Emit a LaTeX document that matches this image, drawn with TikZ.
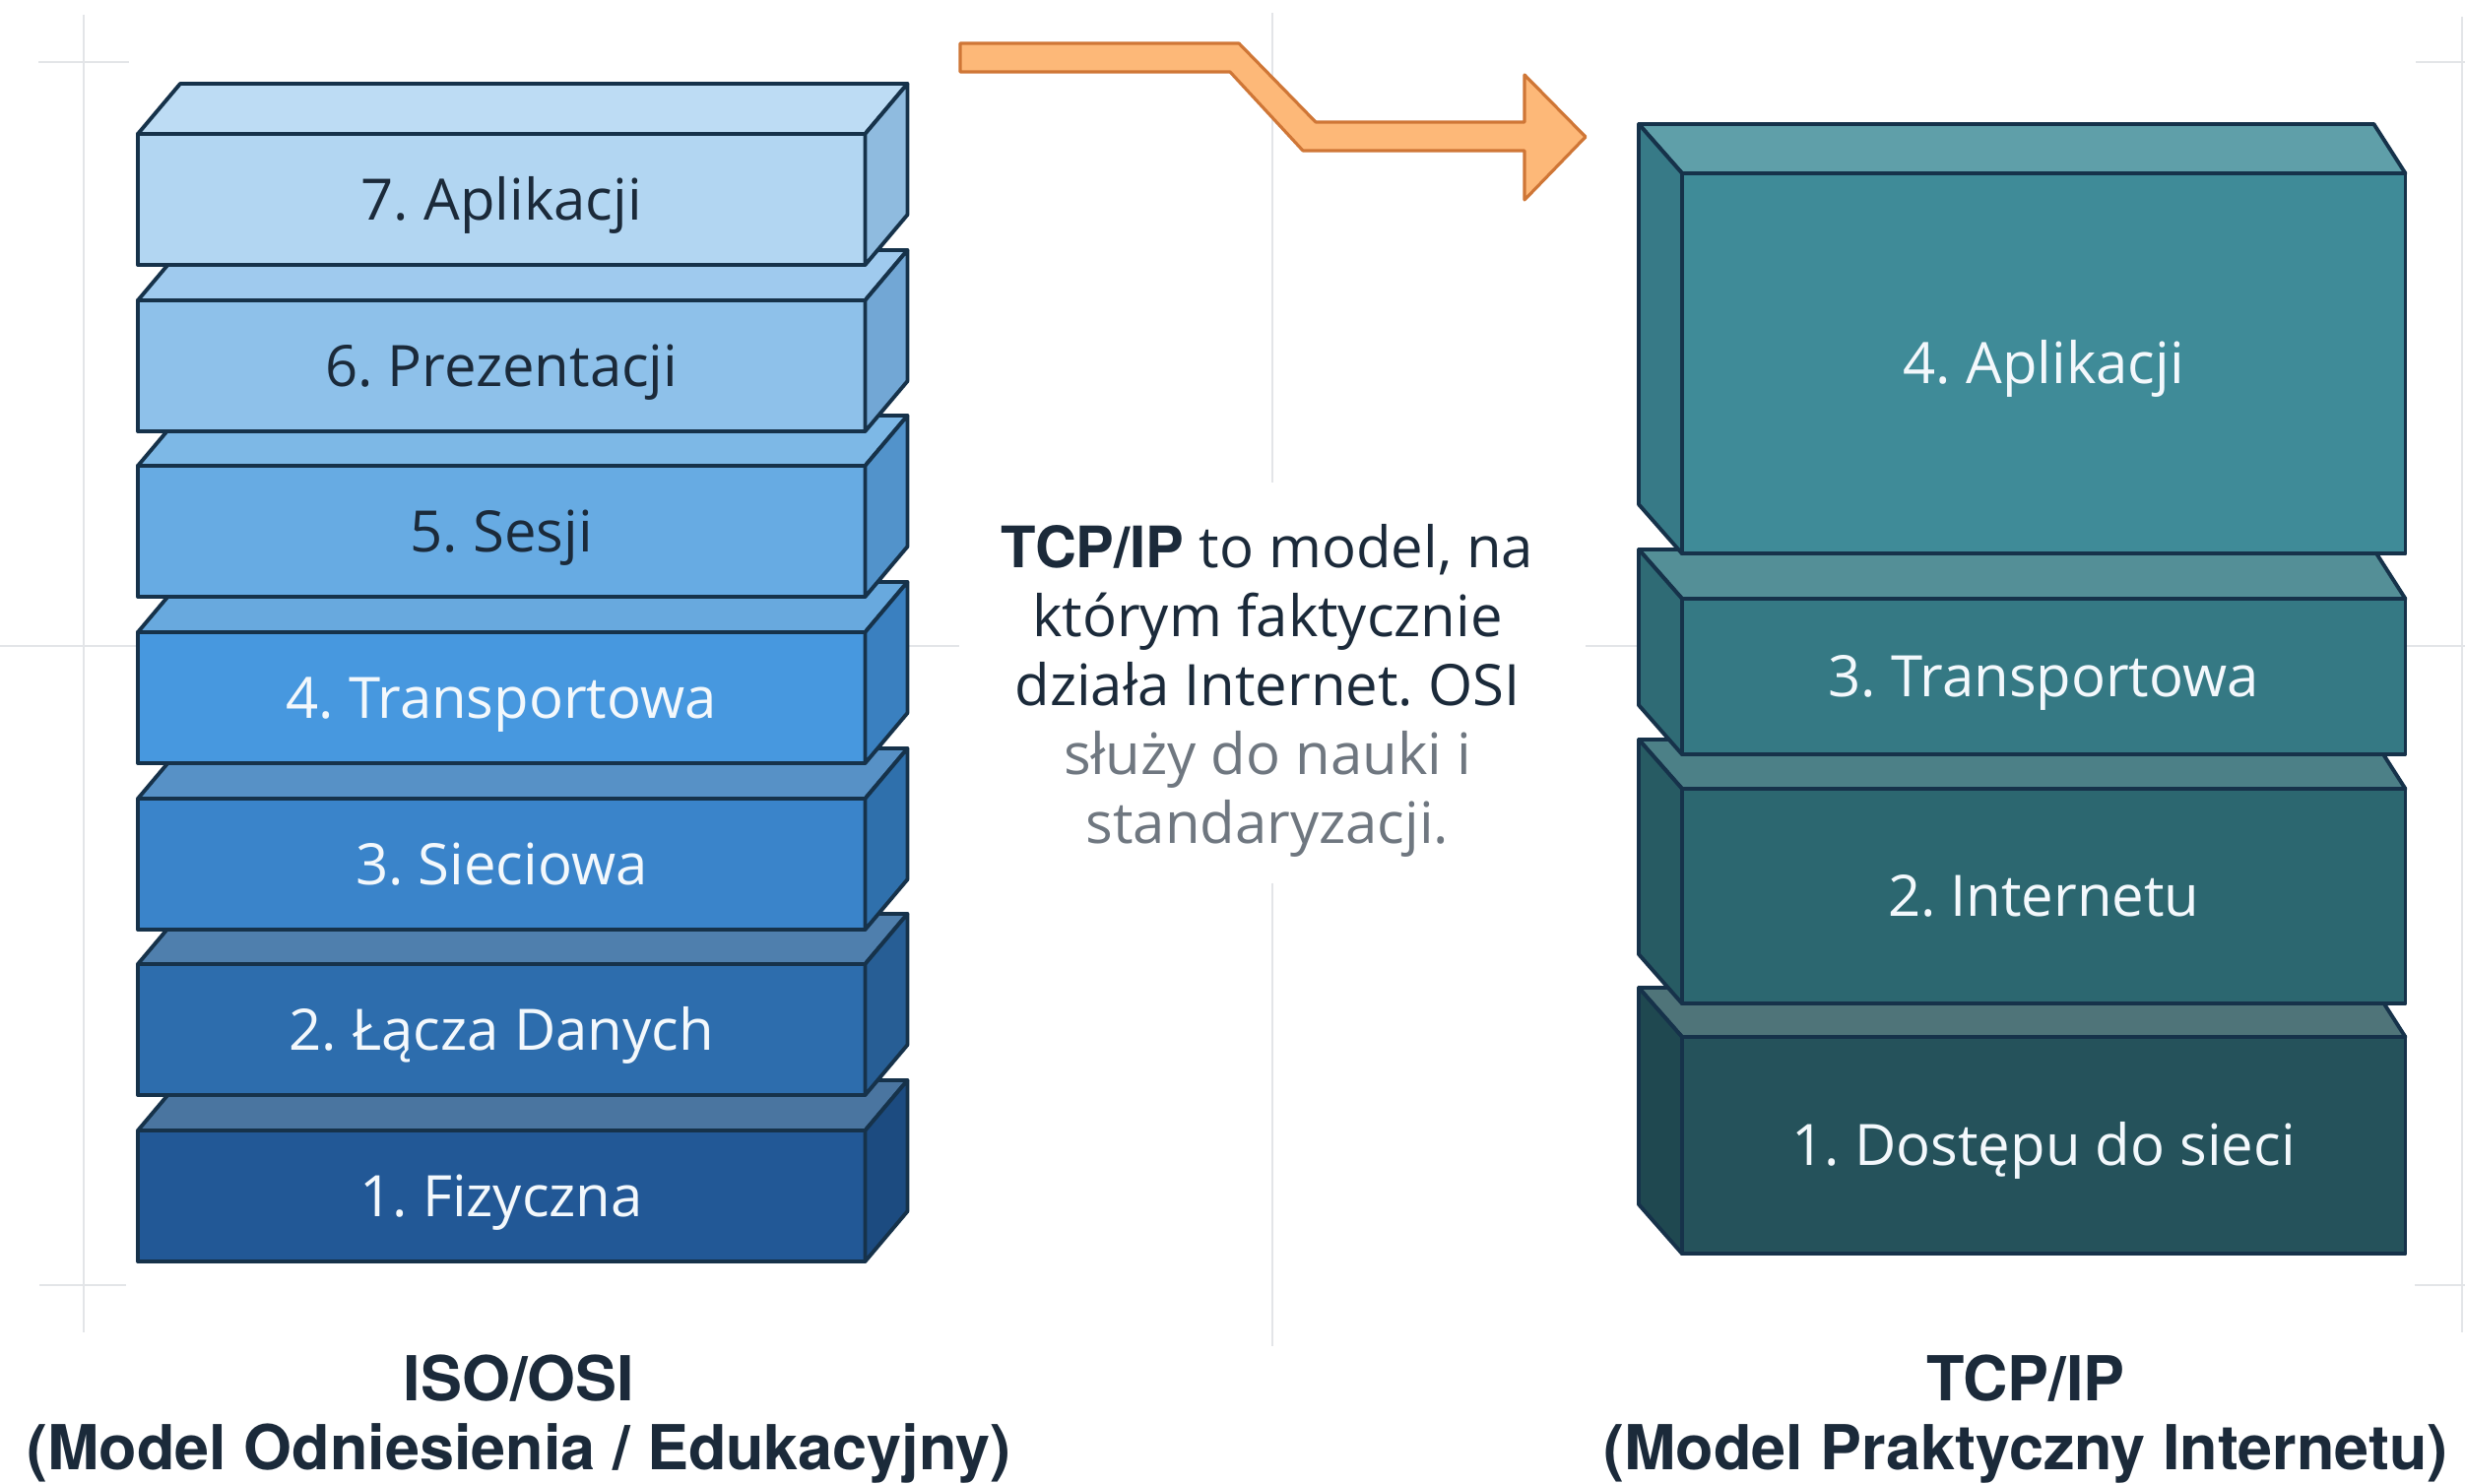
\documentclass[tikz,border=0pt]{standalone}
\usepackage{fontspec}
\setmainfont{Open Sans}
\newfontfamily\heavy{TeX Gyre Heros}
\usetikzlibrary{calc}

% palette
\definecolor{edgecol}{HTML}{16324A}
\definecolor{guidecol}{HTML}{E3E5E8}
\definecolor{inkdark}{HTML}{1B2A3A}
\definecolor{inkgrey}{HTML}{6F7780}
\definecolor{inklight}{HTML}{F3F8FC}
\definecolor{arrowfill}{HTML}{FDB878}
\definecolor{arrowedge}{HTML}{CF7636}
% OSI layers: front / top / side
\definecolor{oF7}{HTML}{B2D6F2}\definecolor{oT7}{HTML}{BDDCF4}\definecolor{oS7}{HTML}{8FBBDF}
\definecolor{oF6}{HTML}{8EC1EA}\definecolor{oT6}{HTML}{9FCAEE}\definecolor{oS6}{HTML}{72A7D5}
\definecolor{oF5}{HTML}{67ABE3}\definecolor{oT5}{HTML}{7DB8E6}\definecolor{oS5}{HTML}{5293CB}
\definecolor{oF4}{HTML}{4798DF}\definecolor{oT4}{HTML}{68A9DE}\definecolor{oS4}{HTML}{3A80C0}
\definecolor{oF3}{HTML}{3A84CA}\definecolor{oT3}{HTML}{5791C6}\definecolor{oS3}{HTML}{2F70AC}
\definecolor{oF2}{HTML}{2D6DAD}\definecolor{oT2}{HTML}{4F7FAD}\definecolor{oS2}{HTML}{275E95}
\definecolor{oF1}{HTML}{225896}\definecolor{oT1}{HTML}{4A75A0}\definecolor{oS1}{HTML}{1C4B80}
% TCP/IP layers: front / top / side
\definecolor{tF4}{HTML}{3F8B98}\definecolor{tT4}{HTML}{5F9FA9}\definecolor{tS4}{HTML}{377A87}
\definecolor{tF3}{HTML}{357984}\definecolor{tT3}{HTML}{548F97}\definecolor{tS3}{HTML}{2F6B75}
\definecolor{tF2}{HTML}{2C6770}\definecolor{tT2}{HTML}{4C8087}\definecolor{tS2}{HTML}{275B63}
\definecolor{tF1}{HTML}{25525B}\definecolor{tT1}{HTML}{4F7479}\definecolor{tS1}{HTML}{1F4850}

% a label whose capitals sit centred on the slab
\newcommand{\capmid}[1]{\raisebox{-0.357em}[0pt][0pt]{#1}}

\tikzset{
  edge/.style={draw=edgecol, line width=1.1pt, line join=round},
  face/.style={edge, rectangle, outer sep=0pt, inner sep=0pt, anchor=north west,
    font=\fontsize{16.5}{20}\selectfont},
  guide/.style={draw=guidecol, line width=0.7pt},
  caption/.style={font=\heavy\bfseries\fontsize{17.9}{20}\selectfont, text=inkdark, align=center},
  note/.style={font=\fontsize{16.5}{19.9}\selectfont, text=inkdark, align=center},
}

% OSI slab: name, top y, front, top, side, text colour, label
\newcommand{\osilayer}[7]{%
  \node[face, fill=#3, text=#6, minimum width=7.38cm, minimum height=1.33cm] (#1) at (140,#2) {\capmid{#7}};
  \draw[edge, fill=#4] (#1.north west) -- ++(43,-51) -- ($(#1.north east)+(43,-51)$) -- (#1.north east) -- cycle;
  \draw[edge, fill=#5] (#1.north east) -- ++(43,-51) -- ($(#1.south east)+(43,-51)$) -- (#1.south east) -- cycle;
}
% TCP/IP slab: name, top y, height, front, top, side, label
\newcommand{\tcplayer}[7]{%
  \node[face, fill=#4, text=inklight, minimum width=7.34cm, minimum height=#3] (#1) at (1708,#2) {\capmid{#7}};
  \draw[edge, fill=#5] (#1.north west) -- ++(-44,-50) -- ($(#1.north east)+(-32,-50)$) -- (#1.north east) -- cycle;
  \draw[edge, fill=#6] (#1.north west) -- ++(-44,-50) -- ($(#1.south west)+(-44,-50)$) -- (#1.south west) -- cycle;
}

\frenchspacing
\begin{document}
\begin{tikzpicture}[x=0.01cm, y=-0.01cm]
\fill[white] (0,0) rectangle (2503,1507);
\useasboundingbox (0,0) rectangle (2503,1507);

% faint layout guides
\draw[guide] (85,15) -- (85,1353);
\draw[guide] (39,63) -- (131,63);
\draw[guide] (40,1305) -- (128,1305);
\draw[guide] (2500,17) -- (2500,1353);
\draw[guide] (2453,63) -- (2503,63);
\draw[guide] (2452,1305) -- (2503,1305);
\draw[guide] (1292,13) -- (1292,490);
\draw[guide] (1292,897) -- (1292,1367);
\draw[guide] (0,656) -- (974,656);
\draw[guide] (1610,656) -- (2503,656);

% ISO/OSI stack, bottom to top
\osilayer{o1}{1148}{oF1}{oT1}{oS1}{inklight}{1. Fizyczna}
\osilayer{o2}{979}{oF2}{oT2}{oS2}{inklight}{2. Łącza Danych}
\osilayer{o3}{811}{oF3}{oT3}{oS3}{inklight}{3. Sieciowa}
\osilayer{o4}{642}{oF4}{oT4}{oS4}{inklight}{4. Transportowa}
\osilayer{o5}{473}{oF5}{oT5}{oS5}{inkdark}{5. Sesji}
\osilayer{o6}{305}{oF6}{oT6}{oS6}{inkdark}{6. Prezentacji}
\osilayer{o7}{136}{oF7}{oT7}{oS7}{inkdark}{7. Aplikacji}

% TCP/IP stack, bottom to top
\tcplayer{t1}{1053}{2.20cm}{tF1}{tT1}{tS1}{1. Dostępu do sieci}
\tcplayer{t2}{801}{2.18cm}{tF2}{tT2}{tS2}{2. Internetu}
\tcplayer{t3}{608}{1.58cm}{tF3}{tT3}{tS3}{3. Transportowa}
\tcplayer{t4}{176}{3.86cm}{tF4}{tT4}{tS4}{4. Aplikacji}

% stepped arrow
\draw[draw=arrowedge, fill=arrowfill, line width=0.9pt, line join=round]
  (975,44) -- (1258,44) -- (1336,124) -- (1548,124) -- (1548,76) -- (1610,139)
  -- (1548,203) -- (1548,153) -- (1323,153) -- (1249,73) -- (975,73) -- cycle;

% comment between the stacks
\node[note] (note) at (1287,701)
  {{\heavy\bfseries TCP/IP} to model, na\\którym faktycznie\\działa Internet. OSI\\
   \textcolor{inkgrey}{służy do nauki i}\\\textcolor{inkgrey}{standaryzacji.}};

% captions
\node[caption] (capOSI) at (527,1441) {ISO/OSI\\(Model Odniesienia / Edukacyjny)};
\node[caption] (capTCP) at (2057,1441) {TCP/IP\\(Model Praktyczny Internetu)};
\end{tikzpicture}
\end{document}
